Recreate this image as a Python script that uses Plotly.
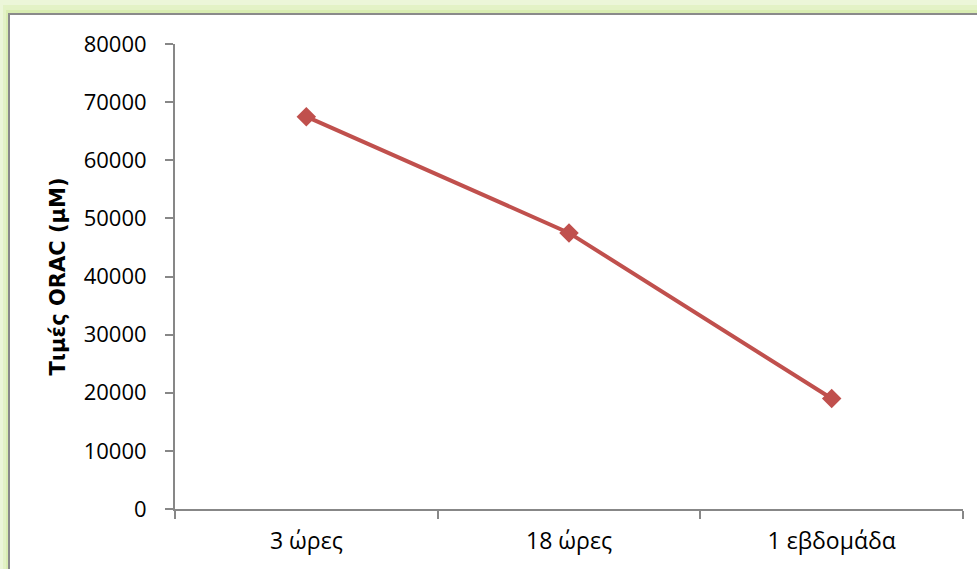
import plotly.graph_objects as go

# Sampling times and measured ORAC values
categories = ["3 ώρες", "18 ώρες", "1 εβδομάδα"]
orac_values = [67500, 47500, 19000]
y_ticks = [0, 10000, 20000, 30000, 40000, 50000, 60000, 70000, 80000]

W, H = 977, 569
L, R, T, B = 175, 14, 44, 60
pw, ph = W - L - R, H - T - B


def px_x(v):
    return (v - L) / pw


def px_y(v):
    return 1 - (v - T) / ph


fig = go.Figure()
fig.add_trace(go.Scatter(
    x=categories, y=orac_values, mode="lines+markers",
    line=dict(color="#c0504d", width=4),
    marker=dict(symbol="diamond", size=15, color="#c0504d"),
    showlegend=False,
))

axis_col = "#878787"
font_family = "Open Sans, Liberation Sans, sans-serif"

# soft green frame around the white chart area
shapes = []
frame = [(0, 0, "#ecf6d9"), (3, 5, "#e3f2c6"), (6, 10, "#d9edb2")]
for (x0, y0, col) in frame:
    shapes.append(dict(type="rect", xref="paper", yref="paper", layer="below",
                       x0=px_x(x0), x1=px_x(W + 20), y0=px_y(y0), y1=px_y(H + 20),
                       fillcolor=col, line=dict(width=0)))
shapes.append(dict(type="rect", xref="paper", yref="paper", layer="below",
                   x0=px_x(9), x1=px_x(W + 20), y0=px_y(14), y1=px_y(H + 20),
                   fillcolor="white", line=dict(color="#8a8a8a", width=2)))

fig.update_layout(
    width=W, height=H,
    margin=dict(l=L, r=R, t=T, b=B),
    paper_bgcolor="#ecf6d9",
    plot_bgcolor="white",
    shapes=shapes,
    font=dict(family=font_family, size=22, color="black"),
    xaxis=dict(
        type="category", range=[-0.5, 2.5],
        showline=True, linecolor=axis_col, linewidth=2,
        ticks="outside", tickson="boundaries", ticklen=8, tickcolor=axis_col, tickwidth=2,
        showgrid=False, zeroline=False,
        tickfont=dict(size=23), ticklabelstandoff=10,
    ),
    yaxis=dict(
        range=[0, 80000], tickvals=y_ticks, ticktext=[str(v) for v in y_ticks],
        showline=True, linecolor=axis_col, linewidth=2,
        ticks="outside", ticklen=8, tickcolor=axis_col, tickwidth=2,
        showgrid=False, zeroline=False,
        tickfont=dict(size=22), ticklabelstandoff=14,
        title=dict(text="<b>Τιμές ORAC (μM)</b>",
                   font=dict(family="DejaVu Sans, sans-serif", size=21), standoff=12),
    ),
)

fig.write_html("out.html")
